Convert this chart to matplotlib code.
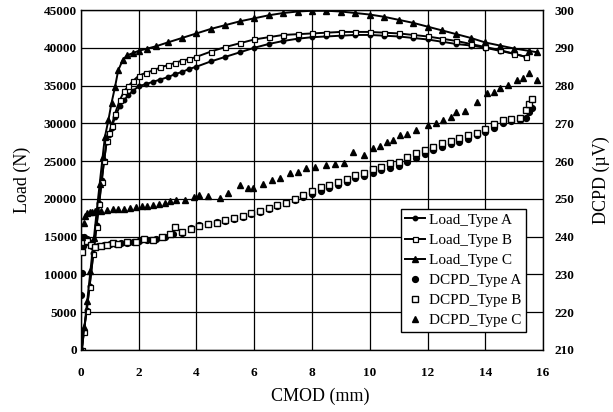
import matplotlib

matplotlib.use("Agg")
import matplotlib.pyplot as plt

plt.rcParams["font.family"] = ["Liberation Serif", "DejaVu Serif"]

# Load curves (N) against CMOD (mm)
load_ab_x = [0.03, 0.1, 0.2, 0.3, 0.43, 0.54, 0.63, 0.72, 0.8, 0.89, 0.97, 1.06, 1.18,
             1.35, 1.5, 1.64, 1.8, 2.0, 2.25, 2.5, 2.75, 3.0, 3.25, 3.5, 3.75, 4.0, 4.5,
             5.0, 5.5, 6.0, 6.5, 7.0, 7.5, 8.0, 8.5, 9.0, 9.5, 10.0, 10.5, 11.0, 11.5,
             12.0, 12.5, 13.0, 13.5, 14.0, 14.5, 15.0, 15.4]
load_a = [0, 2500, 5300, 8500, 12800, 16500, 19500, 22500, 25000, 27500, 28500, 29400,
          30800, 32300, 33100, 33700, 34300, 34900, 35200, 35500, 35800, 36100, 36500,
          36800, 37200, 37500, 38200, 38800, 39400, 40000, 40500, 40900, 41200, 41400,
          41500, 41600, 41700, 41700, 41600, 41500, 41300, 41100, 40800, 40500, 40300,
          40000, 39600, 39200, 38800]
load_b = [0, 2400, 5200, 8400, 12700, 16300, 19300, 22300, 25000, 27600, 28700, 29600,
          31300, 33100, 34300, 34900, 35600, 36300, 36700, 37000, 37400, 37700, 38000,
          38300, 38500, 38800, 39500, 40100, 40600, 41100, 41400, 41700, 41800, 41900,
          42000, 42100, 42100, 42100, 42000, 41900, 41700, 41500, 41200, 40900, 40500,
          40100, 39700, 39200, 38800]
load_c_x = [0.03, 0.12, 0.22, 0.33, 0.45, 0.55, 0.65, 0.75, 0.83, 0.95, 1.06, 1.18, 1.29,
            1.45, 1.6, 1.8, 2.0, 2.3, 2.6, 3.0, 3.5, 4.0, 4.5, 5.0, 5.5, 6.0, 6.5, 7.0,
            7.5, 8.0, 8.5, 9.0, 9.5, 10.0, 10.5, 11.0, 11.5, 12.0, 12.5, 13.0, 13.5,
            14.0, 14.5, 15.0, 15.5, 15.8]
load_c = [0, 3000, 6500, 10500, 14800, 18500, 22000, 25500, 28200, 30400, 32700, 34800,
          37000, 38400, 39000, 39300, 39600, 39900, 40200, 40700, 41300, 41900, 42500,
          43000, 43500, 43900, 44300, 44600, 44800, 44900, 44900, 44800, 44600, 44400,
          44100, 43700, 43300, 42800, 42300, 41800, 41300, 40700, 40300, 39900, 39600,
          39400]

# DCPD readings (microvolt)
dcpd_a_x = [0.02, 0.05, 0.08, 0.12, 0.2, 0.3, 0.4, 0.5, 0.6, 0.8, 1.0, 1.2, 1.4, 1.6,
            1.8, 2.0, 2.3, 2.6, 2.9, 3.2, 3.5, 3.8, 4.1, 4.4, 4.7, 5.0, 5.3, 5.6, 5.9,
            6.2, 6.5, 6.8, 7.1, 7.4, 7.7, 8.0, 8.3, 8.6, 8.9, 9.2, 9.5, 9.8, 10.1, 10.4,
            10.7, 11.0, 11.3, 11.6, 11.9, 12.2, 12.5, 12.8, 13.1, 13.4, 13.7, 14.0,
            14.3, 14.6, 14.9, 15.2, 15.4, 15.5, 15.6]
dcpd_a = [224.5, 230.5, 237.5, 239.8, 239.3, 238.4, 237.6, 237.3, 237.5, 237.7, 238.0,
          238.1, 238.4, 238.3, 238.7, 238.9, 239.0, 239.4, 239.9, 240.6, 241.0, 242.2,
          243.0, 243.4, 243.8, 244.2, 244.6, 245.3, 246.0, 246.6, 247.4, 248.0, 248.8,
          249.6, 250.6, 251.4, 252.2, 253.0, 253.8, 254.6, 255.4, 256.0, 256.8, 257.6,
          258.2, 258.8, 259.8, 260.8, 262.0, 263.0, 263.8, 264.4, 265.0, 265.8, 266.8,
          267.6, 268.8, 270.0, 270.6, 271.0, 271.4, 273.0, 274.0]
dcpd_b_x = [0.05, 0.1, 0.2, 0.35, 0.5, 0.7, 0.9, 1.1, 1.3, 1.6, 1.9, 2.2, 2.5, 2.8, 3.1,
            3.25, 3.5, 3.8, 4.1, 4.4, 4.7, 5.0, 5.3, 5.6, 5.9, 6.2, 6.5, 6.8, 7.1, 7.4,
            7.7, 8.0, 8.3, 8.6, 8.9, 9.2, 9.5, 9.8, 10.1, 10.4, 10.7, 11.0, 11.3, 11.6,
            11.9, 12.2, 12.5, 12.8, 13.1, 13.4, 13.7, 14.0, 14.3, 14.6, 14.9, 15.2,
            15.4, 15.5, 15.6]
dcpd_b = [236.0, 238.5, 238.8, 237.8, 237.2, 237.4, 237.9, 238.2, 238.0, 238.6, 238.5,
          239.3, 239.1, 239.8, 240.7, 242.5, 241.2, 241.9, 242.8, 243.4, 243.6, 244.5,
          245.0, 245.5, 246.2, 246.8, 247.6, 248.4, 249.0, 250.0, 251.0, 252.0, 253.2,
          253.6, 254.6, 255.2, 256.2, 256.8, 257.8, 258.4, 259.4, 259.8, 261.0, 262.2,
          263.0, 263.8, 264.8, 265.4, 266.0, 266.8, 267.4, 268.4, 269.8, 270.8, 271.2,
          271.4, 273.5, 275.0, 276.4]
dcpd_c_x = [0.05, 0.1, 0.15, 0.2, 0.3, 0.4, 0.5, 0.7, 0.9, 1.1, 1.3, 1.5, 1.7, 1.9, 2.1,
            2.3, 2.5, 2.7, 2.9, 3.1, 3.3, 3.6, 3.9, 4.1, 4.4, 4.8, 5.1, 5.5, 5.8, 5.95,
            6.3, 6.6, 6.9, 7.24, 7.5, 7.8, 8.1, 8.5, 8.8, 9.1, 9.43, 9.8, 10.1, 10.35,
            10.6, 10.8, 11.05, 11.3, 11.6, 12.0, 12.3, 12.55, 12.8, 13.0, 13.3, 13.7,
            14.05, 14.3, 14.5, 14.8, 15.1, 15.3, 15.5, 15.8]
dcpd_c = [240.0, 243.5, 245.5, 246.2, 246.6, 246.5, 246.7, 246.9, 247.0, 247.2, 247.4,
          247.3, 247.6, 247.8, 248.2, 248.0, 248.5, 248.7, 248.8, 249.4, 249.6, 249.8,
          250.4, 251.0, 250.8, 250.2, 251.5, 253.7, 253.0, 252.9, 254.0, 255.0, 255.6,
          256.8, 257.2, 258.2, 258.4, 259.0, 259.2, 259.4, 262.5, 261.6, 263.4, 264.0,
          265.1, 265.6, 266.9, 267.3, 268.2, 269.5, 270.0, 270.9, 271.8, 273.0, 273.2,
          275.7, 278.0, 278.4, 279.3, 280.2, 281.5, 282.0, 283.2, 281.5]

x_ticks = list(range(0, 17, 2))
load_ticks = list(range(0, 45001, 5000))
dcpd_ticks = list(range(210, 301, 10))

fig = plt.figure(figsize=(6.13, 4.12), dpi=100)
ax = fig.add_axes([0.132, 0.1505, 0.754, 0.8252])
ax2 = ax.twinx()

la, = ax.plot(load_ab_x, load_a, "-o", color="black", lw=1.4, ms=3.2,
              label="Load_Type A")
lb, = ax.plot(load_ab_x, load_b, "-s", color="black", lw=1.4, ms=3.6,
              mfc="white", mec="black", mew=0.9, label="Load_Type B")
lc, = ax.plot(load_c_x, load_c, "-^", color="black", lw=1.4, ms=3.8,
              label="Load_Type C")

da, = ax2.plot(dcpd_a_x, dcpd_a, "o", color="black", ms=4.2, label="DCPD_Type A")
db, = ax2.plot(dcpd_b_x, dcpd_b, "s", color="black", ms=4.2, mfc="white",
               mew=1.0, label="DCPD_Type B")
dc, = ax2.plot(dcpd_c_x, dcpd_c, "^", color="black", ms=4.8, label="DCPD_Type C")

ax.set_xlim(0, 16)
ax.set_ylim(0, 45000)
ax2.set_ylim(210, 300)
ax.set_xticks(x_ticks)
ax.set_yticks(load_ticks)
ax2.set_yticks(dcpd_ticks)
ax.grid(True, color="black", lw=0.9)
ax.set_axisbelow(True)

for s in ax.spines.values():
    s.set_linestyle((0, (1, 1)))
    s.set_linewidth(1.0)
for s in ax2.spines.values():
    s.set_visible(False)

ax.tick_params(axis="x", length=0, pad=12, labelsize=9.5)
ax.tick_params(axis="y", length=0, pad=3, labelsize=9.5)
ax2.tick_params(axis="y", length=0, pad=8, labelsize=9.5)
for lab in ax.get_xticklabels() + ax.get_yticklabels() + ax2.get_yticklabels():
    lab.set_fontweight("bold")

ax.set_xlabel("CMOD (mm)", fontsize=13)
ax.set_ylabel("Load (N)", fontsize=13)
ax2.set_ylabel("DCPD (\u00b5V)", fontsize=13)
ax.xaxis.set_label_coords(0.517, -0.11)
ax.yaxis.set_label_coords(-0.108, 0.5)
ax2.yaxis.set_label_coords(1.108, 0.5)

leg = ax2.legend(handles=[la, lb, lc, da, db, dc], loc="lower right",
                 bbox_to_anchor=(0.9625, 0.053), fontsize=11, frameon=True,
                 fancybox=False, edgecolor="black", framealpha=1, numpoints=1,
                 handlelength=1.3, handletextpad=0.25, labelspacing=0.42,
                 borderpad=0.3, borderaxespad=0)
leg.get_frame().set_linewidth(1.0)

fig.savefig("out.png", dpi=100)
